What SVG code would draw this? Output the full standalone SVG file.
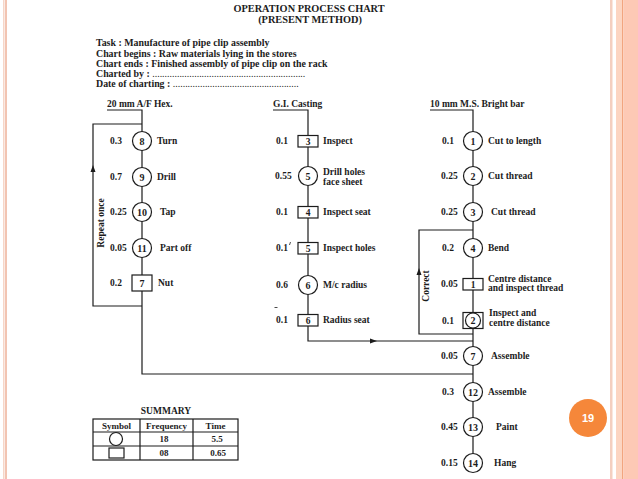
<svg xmlns="http://www.w3.org/2000/svg" width="638" height="479" viewBox="0 0 638 479">
<defs>
<style>
text{font-family:"Liberation Serif","Times New Roman",serif;font-weight:bold;font-size:9.5px;fill:#1c1c1c}
.t{font-size:10.3px}
.h{font-size:9.9px}
.n{font-size:10px}
.s{font-size:9px}
.c{text-anchor:middle}
.ln{fill:none;stroke:#1c1c1c;stroke-width:1.2}
.nd{fill:#fff;stroke:#1c1c1c;stroke-width:1.2}
.ar{fill:#1c1c1c}
</style>
</defs>
<rect width="638" height="479" fill="#fff"/>
<!-- slide border -->
<rect x="3" y="0" width="1.5" height="479" fill="#f6d6c8"/>
<rect x="5" y="0" width="2" height="479" fill="#f2c4b2"/>
<rect x="610" y="0" width="2.5" height="479" fill="#f4cfc0"/>
<rect x="616" y="0" width="6" height="479" fill="#fcd5c2"/>
<rect x="622" y="0" width="1.3" height="479" fill="#f2a57f"/>
<rect x="623.3" y="0" width="14.7" height="479" fill="#fdc9b5"/>
<g id="page-number">
<circle cx="588" cy="418" r="19" fill="#f5873a"/>
<text x="588" y="422" class="c" style="fill:#fff;font-family:'Liberation Sans',Arial,sans-serif;font-size:11px;font-weight:bold">19</text>
</g>
<g id="header">
<text x="309" y="12" class="t c">OPERATION PROCESS CHART</text>
<text x="310" y="23" class="t c">(PRESENT METHOD)</text>
<text x="96" y="46" class="h">Task : Manufacture of pipe clip assembly</text>
<text x="96" y="56.5" class="h">Chart begins : Raw materials lying in the stores</text>
<text x="96" y="66.5" class="h">Chart ends : Finished assembly of pipe clip on the rack</text>
<text x="96" y="76.5" class="h">Charted by : <tspan style="font-weight:normal">..............................................................</tspan></text>
<text x="96" y="86.5" class="h">Date of charting : <tspan style="font-weight:normal">...................................................</tspan></text>
<text x="107" y="107">20 mm A/F Hex.</text>
<text x="273" y="107">G.I. Casting</text>
<text x="430" y="107">10 mm M.S. Bright bar</text>
</g>
<g id="connectors">
<path class="ln" d="M107,110 H142 V374 H473"/>
<path class="ln" d="M142,124 H93 V306 H142"/>
<path class="ln" d="M273,110 H308 V341 H473"/>
<path class="ln" d="M430,110 H473 V463"/>
<path class="ln" d="M473,230 H419 V334 H473"/>
<path class="ar" d="M93,165 L90.5,172 L95.5,172 Z"/>
<path class="ar" d="M419,268 L416.5,275 L421.5,275 Z"/>
<path class="ar" d="M377,341 L370,338.5 L370,343.5 Z"/>
<path class="ln" d="M274.5,307.5 H277.5" style="stroke-width:0.8"/>
<path class="ln" d="M289.5,245 L290.5,242" style="stroke-width:0.8"/>
<text transform="translate(104,223) rotate(-90)" class="c">Repeat once</text>
<text transform="translate(429,286) rotate(-90)" class="c">Correct</text>
</g>
<!-- left column -->
<g id="op8"><text x="110" y="144">0.3</text><circle class="nd" cx="142" cy="141" r="9.5"/><text x="142" y="144.5" class="c n">8</text><text x="157" y="144">Turn</text></g>
<g id="op9"><text x="110" y="180">0.7</text><circle class="nd" cx="142" cy="177" r="9.5"/><text x="142" y="180.5" class="c n">9</text><text x="157" y="180">Drill</text></g>
<g id="op10"><text x="110" y="215">0.25</text><circle class="nd" cx="142" cy="212" r="9.5"/><text x="142" y="215.5" class="c n">10</text><text x="160" y="215">Tap</text></g>
<g id="op11"><text x="110" y="251">0.05</text><circle class="nd" cx="142" cy="248" r="9.5"/><text x="142" y="251.5" class="c n">11</text><text x="160" y="251">Part off</text></g>
<g id="insp7"><text x="110" y="286">0.2</text><rect class="nd" x="132" y="275" width="20" height="16"/><text x="142" y="286.5" class="c n">7</text><text x="158" y="286">Nut</text></g>
<!-- middle column -->
<g id="insp3"><text x="276" y="144">0.1</text><rect class="nd" x="298" y="135.5" width="20" height="11.5"/><text x="308" y="144.5" class="c">3</text><text x="323" y="144">Inspect</text></g>
<g id="op5"><text x="275" y="179">0.55</text><circle class="nd" cx="308" cy="176" r="9.5"/><text x="308" y="179.5" class="c n">5</text><text x="323" y="175">Drill holes</text><text x="323" y="184.5">face sheet</text></g>
<g id="insp4"><text x="276" y="215">0.1</text><rect class="nd" x="298" y="206.5" width="20" height="11.5"/><text x="308" y="215.5" class="c">4</text><text x="323" y="215">Inspect seat</text></g>
<g id="insp5"><text x="276" y="251">0.1</text><rect class="nd" x="298" y="242.5" width="20" height="11.5"/><text x="308" y="251.5" class="c">5</text><text x="323" y="251">Inspect holes</text></g>
<g id="op6"><text x="276" y="288">0.6</text><circle class="nd" cx="308" cy="285" r="9.5"/><text x="308" y="288.5" class="c n">6</text><text x="323" y="288">M/c radius</text></g>
<g id="insp6"><text x="276" y="323">0.1</text><rect class="nd" x="298" y="314.5" width="20" height="11.5"/><text x="308" y="323.5" class="c">6</text><text x="323" y="323">Radius seat</text></g>
<!-- right column -->
<g id="op1"><text x="442" y="144">0.1</text><circle class="nd" cx="473" cy="141" r="9.5"/><text x="473" y="144.5" class="c n">1</text><text x="488" y="144">Cut to length</text></g>
<g id="op2"><text x="441" y="179">0.25</text><circle class="nd" cx="473" cy="176" r="9.5"/><text x="473" y="179.5" class="c n">2</text><text x="488" y="179">Cut thread</text></g>
<g id="op3"><text x="441" y="215">0.25</text><circle class="nd" cx="473" cy="212" r="9.5"/><text x="473" y="215.5" class="c n">3</text><text x="491" y="215">Cut thread</text></g>
<g id="op4"><text x="442" y="251">0.2</text><circle class="nd" cx="473" cy="248" r="9.5"/><text x="473" y="251.5" class="c n">4</text><text x="488" y="251">Bend</text></g>
<g id="insp1"><text x="441" y="287">0.05</text><rect class="nd" x="463" y="278.5" width="20" height="11.5"/><text x="473" y="287.5" class="c">1</text><text x="488" y="282">Centre distance</text><text x="488" y="291">and inspect thread</text></g>
<g id="comb2"><text x="442" y="324">0.1</text><rect class="nd" x="463" y="312.5" width="20" height="16"/><circle class="nd" cx="473" cy="320.5" r="7.5"/><text x="473" y="324" class="c n">2</text><text x="489" y="316">Inspect and</text><text x="489" y="326">centre distance</text></g>
<g id="op7"><text x="441" y="359">0.05</text><circle class="nd" cx="473" cy="356" r="9.5"/><text x="473" y="359.5" class="c n">7</text><text x="491" y="359">Assemble</text></g>
<g id="op12"><text x="442" y="395">0.3</text><circle class="nd" cx="473" cy="392" r="9.5"/><text x="473" y="395.5" class="c n">12</text><text x="488" y="395">Assemble</text></g>
<g id="op13"><text x="441" y="430">0.45</text><circle class="nd" cx="473" cy="427" r="9.5"/><text x="473" y="430.5" class="c n">13</text><text x="496" y="430">Paint</text></g>
<g id="op14"><text x="441" y="466">0.15</text><circle class="nd" cx="473" cy="463" r="9.5"/><text x="473" y="466.5" class="c n">14</text><text x="494" y="466">Hang</text></g>
<!-- summary -->
<g id="summary">
<text x="166" y="414" class="c">SUMMARY</text>
<rect class="ln" x="93" y="419" width="145" height="41"/>
<path class="ln" d="M93,432 H238 M93,446 H238 M140,419 V460 M193,419 V460"/>
<text x="116.5" y="429" class="c s">Symbol</text>
<text x="166.5" y="429" class="c s">Frequency</text>
<text x="215.5" y="429" class="c s">Time</text>
<circle class="ln" cx="116" cy="439" r="6.5"/>
<text x="164" y="442" class="c s">18</text>
<text x="217" y="442" class="c s">5.5</text>
<rect class="ln" x="109" y="448" width="15" height="10"/>
<text x="164" y="456" class="c s">08</text>
<text x="218" y="456" class="c s">0.65</text>
</g>
</svg>
